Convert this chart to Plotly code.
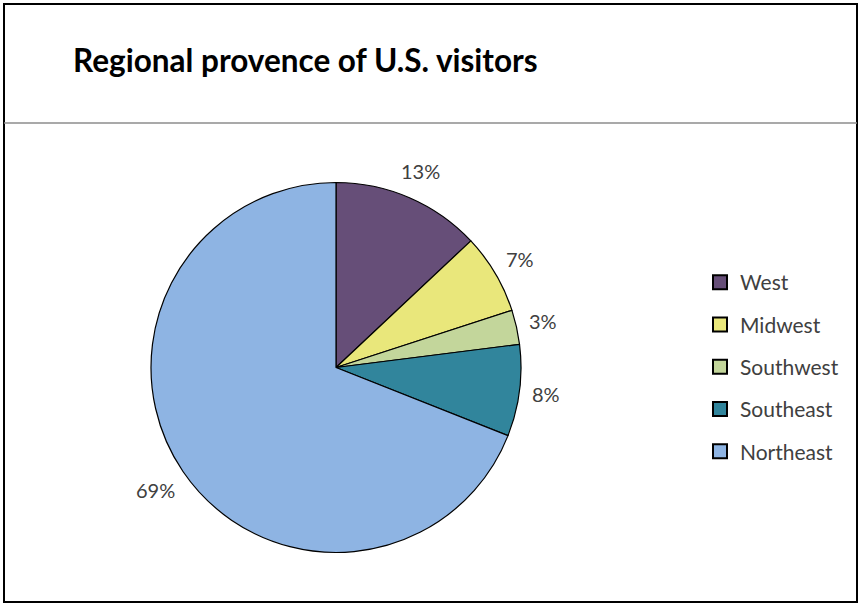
import math
import plotly.graph_objects as go

labels = ["West", "Midwest", "Southwest", "Southeast", "Northeast"]
values = [13, 7, 3, 8, 69]
colors = ["#664E78", "#E9E77B", "#C3D69B", "#31859C", "#8EB4E3"]
title_text = "Regional provence of U.S. visitors"

W, H = 859, 604
cx, cy, r = 336, 367.5, 185
lbl_size = 20
lbl_gap = 14

fig = go.Figure()
fig.add_trace(go.Pie(
    labels=labels, values=values, sort=False, direction="clockwise", rotation=0,
    marker=dict(colors=colors, line=dict(color="#000000", width=1.2)),
    textinfo="none",
    domain=dict(x=[(cx - r) / W, (cx + r) / W], y=[1 - (cy + r) / H, 1 - (cy - r) / H]),
    showlegend=False, hoverinfo="label+percent",
))
for lab, col in zip(labels, colors):
    fig.add_trace(go.Scatter(
        x=[None], y=[None], mode="markers", name=lab, legendgroup=lab,
        marker=dict(symbol="square", size=14, color=col, line=dict(color="#000000", width=2)),
    ))

# percent labels placed outside the slices, derived from the values
total = sum(values)
annotations = []
cum = 0
for v in values:
    frac = v / total
    mid = (cum + frac / 2) * 2 * math.pi
    cum += frac
    txt = f"{round(frac * 100)}%"
    w = 0.6 * lbl_size * len(txt)
    h = 17
    s, c = math.sin(mid), math.cos(mid)
    dist = r + lbl_gap + (w / 2) * abs(s) + (h / 2) * abs(c)
    px = cx + dist * s
    py = cy - dist * c
    annotations.append(dict(text=txt, x=px / W, y=1 - py / H, xref="paper", yref="paper",
                            xanchor="center", yanchor="middle", showarrow=False,
                            font=dict(family="Lato", size=lbl_size, color="#404040")))

annotations.append(dict(text="<b>" + title_text + "</b>", x=71 / W, y=1 - 60 / H,
                        xref="paper", yref="paper", xanchor="left", yanchor="middle",
                        showarrow=False, font=dict(family="Lato", size=31.5, color="#000000")))

fig.update_layout(
    width=W, height=H, margin=dict(l=0, r=0, t=0, b=0),
    paper_bgcolor="white", plot_bgcolor="white",
    xaxis=dict(visible=False), yaxis=dict(visible=False),
    legend=dict(x=700 / W, y=1 - 262 / H, xanchor="left", yanchor="top",
                font=dict(family="Lato", size=21, color="#404040"),
                tracegroupgap=12, itemclick=False, itemdoubleclick=False),
    annotations=annotations,
    shapes=[
        dict(type="rect", xref="paper", yref="paper", x0=4 / W, x1=857 / W, y0=1 - 602 / H, y1=1 - 4 / H,
             line=dict(color="#000000", width=2)),
        dict(type="line", xref="paper", yref="paper", x0=4 / W, x1=857 / W, y0=1 - 123 / H, y1=1 - 123 / H,
             line=dict(color="#8C8C8C", width=1.5)),
    ],
)
fig.write_html("out.html", config={"displayModeBar": False},
               post_script="document.body.style.margin='0';")
